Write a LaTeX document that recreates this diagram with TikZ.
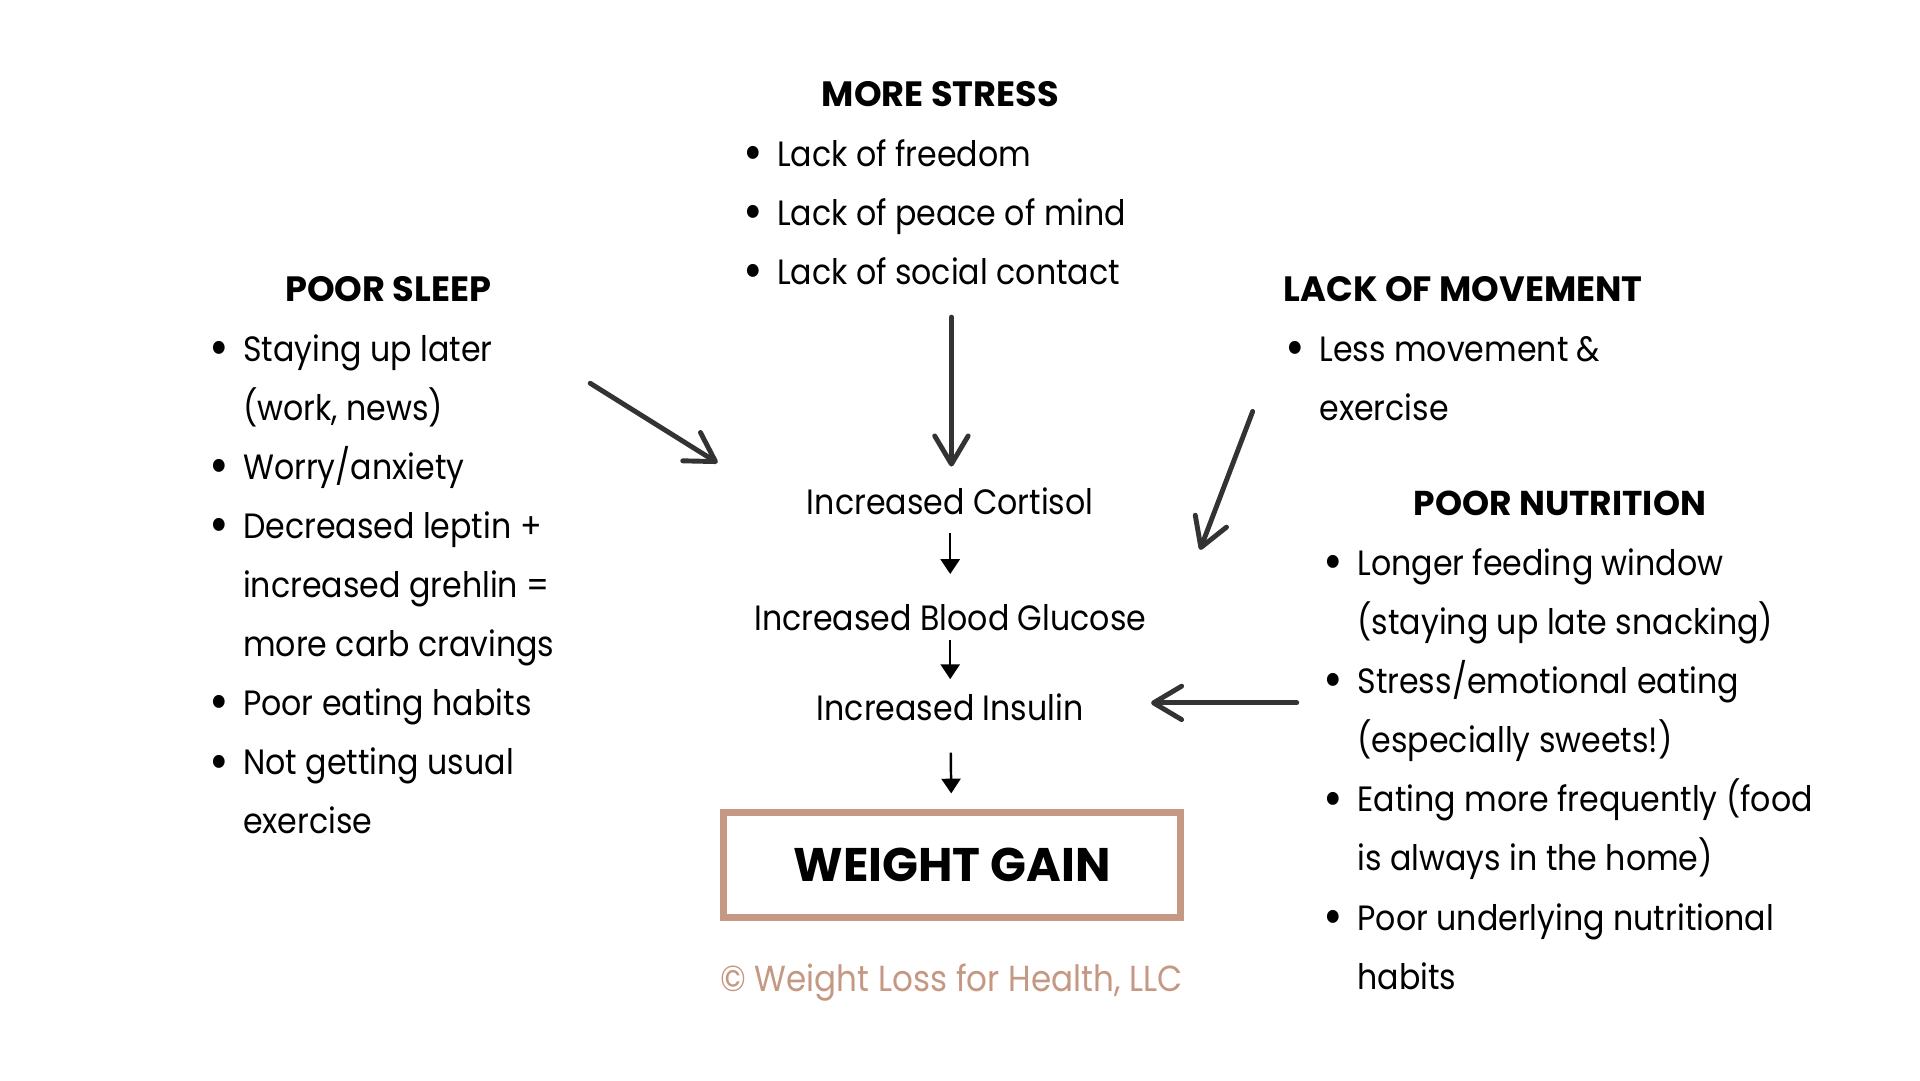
\documentclass[tikz,border=0pt]{standalone}
\usepackage{fontspec}
\usepackage{graphicx}
\setmainfont{Poppins}
\newfontfamily\bodyfont{Poppins}[FakeStretch=0.9]
\usetikzlibrary{arrows.meta,calc,positioning}
\definecolor{tan}{HTML}{C49882}
\definecolor{ink}{HTML}{333333}
\tikzset{%
	heading/.style   = {font=\fontsize{10}{12}\selectfont\bfseries, inner sep=0pt, anchor=base}, % block title
	list/.style      = {font=\bodyfont\fontsize{10}{16.8}\selectfont, inner sep=0pt, anchor=base west}, % bullet list
	stage/.style     = {font=\bodyfont\fontsize{10}{12}\selectfont, inner sep=0pt, anchor=base}, % chain step
	outcome/.style   = {draw=tan, line width=2pt, minimum width=4.566cm, minimum height=1.046cm, font=\fontsize{13.4}{15}\selectfont\bfseries},
	bigarrow/.style  = {draw=ink, line width=1.4pt, line cap=round, -{Straight Barb[length=8pt,width=9.5pt,round]}},
	thinarrow/.style = {line width=0.7pt, -{Triangle[length=4.2pt,width=5.4pt]}},
	waypoint/.style  = {coordinate},
}
\newcommand{\bl}{\llap{\raisebox{-1.2pt}{\scalebox{1.5}{\textbullet}}\hspace{4pt}}}

\begin{document}
\begin{tikzpicture}[x=0.012245cm,y=-0.012245cm]
	\useasboundingbox (0,0) rectangle (1568,882);
	% headings
	\node [heading] (stress) at (768,87) {MORE STRESS};
	\node [heading] (sleep) at (317,246) {POOR SLEEP};
	\node [heading] (move) at (1195,246) {LACK OF MOVEMENT};
	\node [heading, font=\fontsize{9.8}{12}\selectfont\bfseries] (food) at (1274,421) {POOR NUTRITION};
	
	% lists
	\node [list] (stresslist) at (634,136) {\begin{tabular}[t]{@{}l@{}}
		\bl Lack of freedom\\ \bl Lack of peace of mind\\ \bl Lack of social contact\end{tabular}};
	\node [list] (sleeplist) at (198,295) {\begin{tabular}[t]{@{}l@{}}
		\bl Staying up later\\ (work, news)\\ \bl Worry/anxiety\\ \bl Decreased leptin +\\ increased grehlin =\\ more carb cravings\\ \bl Poor eating habits\\ \bl Not getting usual\\ exercise\end{tabular}};
	\node [list] (movelist) at (1077,295) {\begin{tabular}[t]{@{}l@{}}
		\bl Less movement \&\\ exercise\end{tabular}};
	\node [list] (foodlist) at (1108,470) {\begin{tabular}[t]{@{}l@{}}
		\bl Longer feeding window\\ (staying up late snacking)\\ \bl Stress/emotional eating\\ (especially sweets!)\\ \bl Eating more frequently (food\\ is always in the home)\\ \bl Poor underlying nutritional\\ habits\end{tabular}};
	
	% chain
	\node [stage] (cortisol) at (776,420) {Increased Cortisol};
	\node [stage] (glucose) at (776,515) {Increased Blood Glucose};
	\node [stage] (insulin) at (776,588) {Increased Insulin};
	\node [outcome] (gain) at (777.5,706.5) {WEIGHT GAIN};
	\node [stage, text=tan, font=\bodyfont\fontsize{10.3}{12}\selectfont] (credit) at (777,810) {© Weight Loss for Health, LLC};
	
	% arrow ends
	\coordinate (stressout) at (777,259);
	\coordinate (cortin) at (777,381);
	\coordinate (sleepout) at (482,313);
	\coordinate (sleepin) at (586,378);
	\coordinate (moveout) at (1023,336);
	\coordinate (movein) at (980,449);
	\coordinate (foodout) at (1059,574);
	\coordinate (insin) at (940,574);
	
	\draw[bigarrow] (stressout) -- (cortin);
	\draw[bigarrow] (sleepout) -- (sleepin);
	\draw[bigarrow] (moveout) -- (movein);
	\draw[bigarrow] (foodout) -- (insin);
	\draw[thinarrow, shorten <=5pt, shorten >=8.5pt] (cortisol) -- (glucose);
	\draw[thinarrow, shorten <=2.4pt, shorten >=3.8pt] (glucose) -- (insulin);
	\draw[thinarrow, shorten <=9pt, shorten >=4.5pt] (insulin) -- (gain);
\end{tikzpicture}
\end{document}
